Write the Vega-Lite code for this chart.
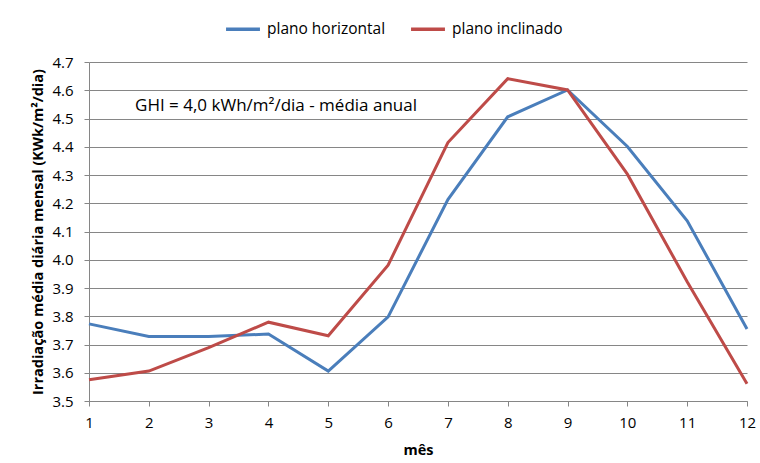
{
  "$schema": "https://vega.github.io/schema/vega-lite/v6.json",
  "autosize": {"type": "none"},
  "width": 658,
  "height": 339,
  "padding": {"left": 89, "top": 62, "right": 13, "bottom": 62},
  "background": "white",
  "config": {
    "font": "Open Sans",
    "view": {"stroke": null},
    "axis": {"labelFont": "Open Sans", "titleFont": "Open Sans", "labelColor": "#000", "titleColor": "#000", "domainColor": "#868686", "tickColor": "#868686", "gridColor": "#868686"}
  },
  "datasets": {
    "series": [
      {"mes": 1, "valor": 3.773, "serie": "plano horizontal"},
      {"mes": 2, "valor": 3.728, "serie": "plano horizontal"},
      {"mes": 3, "valor": 3.728, "serie": "plano horizontal"},
      {"mes": 4, "valor": 3.737, "serie": "plano horizontal"},
      {"mes": 5, "valor": 3.606, "serie": "plano horizontal"},
      {"mes": 6, "valor": 3.798, "serie": "plano horizontal"},
      {"mes": 7, "valor": 4.213, "serie": "plano horizontal"},
      {"mes": 8, "valor": 4.506, "serie": "plano horizontal"},
      {"mes": 9, "valor": 4.601, "serie": "plano horizontal"},
      {"mes": 10, "valor": 4.401, "serie": "plano horizontal"},
      {"mes": 11, "valor": 4.138, "serie": "plano horizontal"},
      {"mes": 12, "valor": 3.755, "serie": "plano horizontal"},
      {"mes": 1, "valor": 3.575, "serie": "plano inclinado"},
      {"mes": 2, "valor": 3.606, "serie": "plano inclinado"},
      {"mes": 3, "valor": 3.689, "serie": "plano inclinado"},
      {"mes": 4, "valor": 3.779, "serie": "plano inclinado"},
      {"mes": 5, "valor": 3.731, "serie": "plano inclinado"},
      {"mes": 6, "valor": 3.981, "serie": "plano inclinado"},
      {"mes": 7, "valor": 4.415, "serie": "plano inclinado"},
      {"mes": 8, "valor": 4.641, "serie": "plano inclinado"},
      {"mes": 9, "valor": 4.601, "serie": "plano inclinado"},
      {"mes": 10, "valor": 4.303, "serie": "plano inclinado"},
      {"mes": 11, "valor": 3.922, "serie": "plano inclinado"},
      {"mes": 12, "valor": 3.561, "serie": "plano inclinado"}
    ],
    "nota": [
      {"mes": 1.77, "valor": 4.545, "texto": "GHI = 4,0 kWh/m²/dia - média anual"}
    ]
  },
  "encoding": {
    "x": {
      "field": "mes", "type": "quantitative",
      "scale": {"domain": [1, 12], "nice": false, "zero": false},
      "axis": {
        "values": [1, 2, 3, 4, 5, 6, 7, 8, 9, 10, 11, 12], "format": "d",
        "labelFlush": false, "labelOverlap": false, "labelBound": false,
        "grid": false, "tickSize": 5, "labelPadding": 9,
        "labelFontSize": 15, "title": "mês", "titleFontSize": 14.5, "titleFontWeight": "bold", "titlePadding": 13
      }
    },
    "y": {
      "field": "valor", "type": "quantitative",
      "scale": {"domain": [3.5, 4.7], "nice": false, "zero": false},
      "axis": {
        "values": [3.5, 3.6, 3.7, 3.8, 3.9, 4.0, 4.1, 4.2, 4.3, 4.4, 4.5, 4.6, 4.7],
        "format": ".1f", "grid": true, "tickSize": 5, "labelPadding": 11,
        "labelFlush": false, "labelOverlap": false, "labelBound": false,
        "labelFontSize": 15, "title": "Irradiação média diária mensal (KWk/m²/dia)",
        "titleFontSize": 14.5, "titleFontWeight": "bold", "titlePadding": 6
      }
    }
  },
  "layer": [
    {
      "data": {"name": "series"},
      "mark": {"type": "line", "strokeWidth": 3, "strokeJoin": "miter"},
      "encoding": {
        "color": {
          "field": "serie", "type": "nominal",
          "scale": {"domain": ["plano horizontal", "plano inclinado"], "range": ["#4a7ebb", "#be4b48"]},
          "legend": {
            "title": null, "orient": "none", "direction": "horizontal",
            "legendX": 135, "legendY": -52,
            "symbolType": "stroke", "symbolSize": 1150, "symbolStrokeWidth": 3.5,
            "labelFontSize": 15.5, "labelFont": "Open Sans", "labelColor": "#000", "labelOffset": 5, "columnPadding": 18
          }
        }
      }
    },
    {
      "data": {"name": "nota"},
      "mark": {"type": "text", "align": "left", "baseline": "middle", "fontSize": 17, "font": "Open Sans", "color": "#000"},
      "encoding": {
        "text": {"field": "texto"}
      }
    }
  ]
}
